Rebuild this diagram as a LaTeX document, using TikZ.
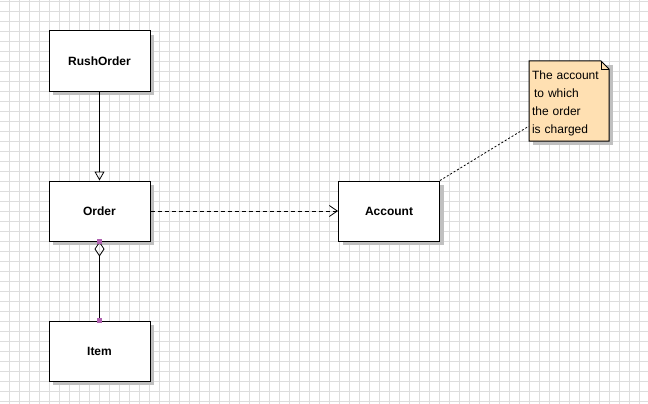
\documentclass[tikz,border=0pt]{standalone}
\usepackage{fontspec}
\setmainfont{Liberation Sans}
\usetikzlibrary{arrows.meta,shadows}
\definecolor{cgrid}{HTML}{DDDDDD}
\definecolor{cnote}{HTML}{FFE0B2}
\definecolor{cshadow}{HTML}{C0C0C0}
\definecolor{chandle}{HTML}{B062B0}

\begin{document}
\begin{tikzpicture}[x=1pt, y=-1pt,
  cls/.style={draw, fill=white, line width=1pt, minimum width=101pt,
    minimum height=60pt, inner sep=0pt, font=\fontsize{12}{14}\selectfont\bfseries,
    drop shadow={shadow xshift=4pt, shadow yshift=-4pt, fill=cshadow, opacity=1}},
  note/.style={minimum width=80pt, minimum height=80pt, inner sep=3pt,
    text width=74pt, align=left, font=\fontsize{12}{18}\selectfont},
  conn/.style={line width=0.8pt}]
  \useasboundingbox[fill=white] (0,0) rectangle (648,404);
  % grid
  \foreach \x in {9.5,19.5,...,649} \draw[cgrid, line width=0.8pt] (\x,0) -- (\x,404);
  \foreach \y in {1.5,11.5,...,404} \draw[cgrid, line width=0.8pt] (0,\y) -- (648,\y);

  \node[cls] (rush) at (99.5,61) {RushOrder};
  \node[cls] (order) at (99.5,211) {Order};
  \node[cls] (item) at (99.5,351) {Item};
  \node[cls] (account) at (389,211) {Account};

  % note with folded corner
  \fill[cshadow] (533,65) rectangle (613,145);
  \filldraw[fill=cnote, line width=1pt] (529,61) -- (601,61) -- (609,69) -- (609,141) -- (529,141) -- cycle;
  \draw[line width=0.6pt] (601,61) -- (601,69) -- (609,69);
  \node[note] (memo) at (569,103) {The account\\\hspace{2pt}to which\\the order\\is charged};

  \draw[conn, -{Triangle[open, length=9pt, width=10pt]}] (rush) -- (order);
  \draw[conn, {Diamond[open, length=15pt, width=10pt]}-] (order) -- (item);
  \draw[conn, dash pattern=on 4pt off 3pt, -{Straight Barb[length=8pt, width=11pt]}] (order) -- (account);
  \draw[conn, dash pattern=on 2pt off 2pt] (account.north east) -- ([yshift=17pt]memo.south west);

  \fill[chandle] ([shift={(-2.5,-2.5)}]order.south) rectangle ++(5,5);
  \fill[chandle] ([shift={(-2.5,-2.5)}]item.north) rectangle ++(5,5);
\end{tikzpicture}
\end{document}
